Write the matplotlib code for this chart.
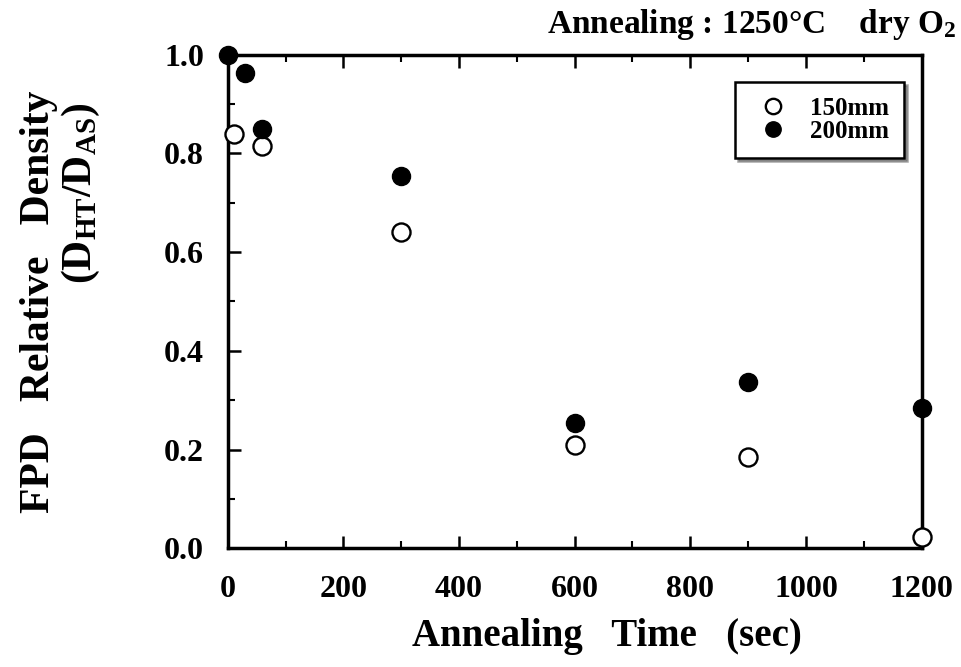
import matplotlib
matplotlib.use("Agg")
import matplotlib.pyplot as plt
from matplotlib.ticker import MultipleLocator

plt.rcParams['font.family'] = ['Liberation Serif', 'DejaVu Serif']
plt.rcParams['font.weight'] = 'bold'
plt.rcParams['mathtext.fontset'] = 'custom'
plt.rcParams['mathtext.rm'] = 'Liberation Serif:bold'
plt.rcParams['mathtext.it'] = 'Liberation Serif:bold'
plt.rcParams['mathtext.bf'] = 'Liberation Serif:bold'

# data
time_150 = [10, 60, 300, 600, 900, 1200]
dens_150 = [0.84, 0.815, 0.64, 0.21, 0.185, 0.022]
time_200 = [0, 30, 60, 300, 600, 900, 1200]
dens_200 = [1.0, 0.963, 0.85, 0.755, 0.253, 0.337, 0.285]
series_labels = ['150mm', '200mm']
x_ticks = [0, 200, 400, 600, 800, 1000, 1200]
y_ticks = [0.0, 0.2, 0.4, 0.6, 0.8, 1.0]

fig = plt.figure(figsize=(9.61, 6.67), dpi=100)
ax = fig.add_axes([0.237, 0.178, 0.722, 0.740])

ax.plot(time_150, dens_150, 'o', ms=13, mfc='white', mec='black', mew=1.7,
        label=series_labels[0], clip_on=False, zorder=5)
ax.plot(time_200, dens_200, 'o', ms=13, mfc='black', mec='black', mew=1.0,
        label=series_labels[1], clip_on=False, zorder=5)

ax.set_xlim(0, 1200)
ax.set_ylim(0, 1.0)
ax.set_xticks(x_ticks)
ax.set_yticks(y_ticks)
ax.set_xticklabels([str(v) for v in x_ticks])
ax.set_yticklabels([f'{v:.1f}' for v in y_ticks])
ax.xaxis.set_minor_locator(MultipleLocator(100))
ax.yaxis.set_minor_locator(MultipleLocator(0.1))
ax.tick_params(axis='both', which='major', direction='in', length=9, width=1.8,
               labelsize=23, top=True, right=False)
ax.tick_params(axis='x', which='major', pad=19)
ax.tick_params(axis='y', which='major', pad=17)
ax.tick_params(axis='both', which='minor', direction='in', length=5, width=1.5,
               top=True, right=False)
for lab in ax.get_xticklabels() + ax.get_yticklabels():
    lab.set_fontweight('bold')
for sp in ax.spines.values():
    sp.set_linewidth(2.5)

ax.set_xlabel('Annealing   Time   (sec)', fontsize=28, fontweight='bold')
ax.xaxis.set_label_coords(0.546, -0.142)

fig.text(0.041, 0.548, 'FPD   Relative   Density', rotation=90, ha='center', va='center',
         fontsize=30, fontweight='bold')
fig.text(0.084, 0.71, r'(D$_{\mathrm{HT}}$/D$_{\mathrm{AS}}$)', rotation=90, ha='center',
         va='center', fontsize=30, fontweight='bold')

fig.text(0.995, 0.950, r'Annealing : 1250°C    dry O$_{\mathrm{2}}$', ha='right', va='baseline',
         fontsize=24, fontweight='bold')

leg = ax.legend(loc='upper right', bbox_to_anchor=(0.975, 0.945), frameon=True,
                fancybox=False, shadow=True, fontsize=18, handletextpad=0.6,
                handlelength=1.8, borderpad=0.6, labelspacing=0.0, markerscale=0.85,
                borderaxespad=0)
leg.get_frame().set_edgecolor('black')
leg.get_frame().set_linewidth(1.8)
for t in leg.get_texts():
    t.set_fontweight('bold')

fig.savefig('out.png', dpi=100)
